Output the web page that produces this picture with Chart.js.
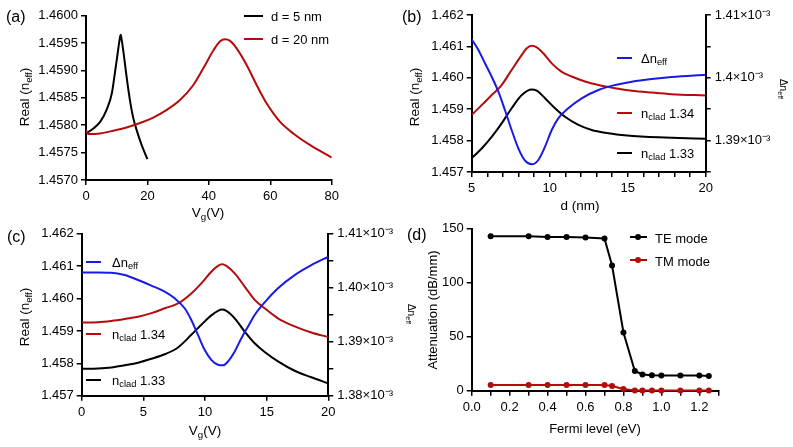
<!DOCTYPE html>
<html><head><meta charset="utf-8">
<script src="https://cdn.jsdelivr.net/npm/chart.js@4.4.1/dist/chart.umd.min.js"></script>
<style>
html,body{margin:0;padding:0;background:#fff}
body{width:793px;height:447px;position:relative;overflow:hidden;font-family:"Liberation Sans",Arial,sans-serif;color:#000}
.box{position:absolute}
.box canvas{display:block}
.t{position:absolute;white-space:nowrap;line-height:1;font-size:13px}
.c{transform:translate(-50%,-50%)}
.l{transform:translate(0,-50%)}
.rl{transform:translate(-50%,-50%) rotate(-90deg)}
.rr{transform:translate(-50%,-50%) rotate(90deg)}
sub{font-size:0.72em;vertical-align:-0.32em;line-height:0}
.pl{font-size:16px}
.ls{position:absolute;height:2px}
.dot{position:absolute;width:6px;height:6px;border-radius:50%;transform:translate(-50%,-50%)}
</style>
</head><body>

<div class="box" id="pa" style="left:0;top:0;width:345px;height:220px"><canvas id="ca" width="345" height="220"></canvas></div>
<div class="box" id="pb" style="left:385px;top:0;width:408px;height:220px"><canvas id="cb" width="408" height="220"></canvas></div>
<div class="box" id="pc" style="left:0;top:222px;width:410px;height:225px"><canvas id="cc" width="410" height="225"></canvas></div>
<div class="box" id="pd" style="left:392px;top:218px;width:401px;height:229px"><canvas id="cd" width="401" height="229"></canvas></div>

<!-- panel (a) texts -->
<div class="t pl l" style="left:6px;top:17px">(a)</div>
<div class="t rl" style="left:25px;top:97px;font-size:13.5px">Real (n<sub>eff</sub>)</div>
<div class="t c" style="left:208px;top:213px;font-size:13.5px">V<sub>g</sub>(V)</div>
<div class="ls" style="left:244px;top:15px;width:19px;background:#000"></div>
<div class="t l" style="left:271px;top:16px">d = 5 nm</div>
<div class="ls" style="left:244px;top:38px;width:19px;background:#b40c0c"></div>
<div class="t l" style="left:271px;top:39px">d = 20 nm</div>

<!-- panel (b) texts -->
<div class="t pl l" style="left:402px;top:17px">(b)</div>
<div class="t rl" style="left:415px;top:97px;font-size:13.5px">Real (n<sub>eff</sub>)</div>
<div class="t c" style="left:580px;top:206px;font-size:13.5px">d (nm)</div>
<div class="t rr" style="left:783px;top:89px;font-size:10px">&Delta;n<sub>eff</sub></div>
<div class="ls" style="left:617px;top:57px;width:15px;background:#1a1ae6"></div>
<div class="t l" style="left:641px;top:58px">&Delta;n<sub>eff</sub></div>
<div class="ls" style="left:617px;top:112px;width:15px;background:#b40c0c"></div>
<div class="t l" style="left:641px;top:113px">n<sub>clad</sub> 1.34</div>
<div class="ls" style="left:617px;top:152px;width:15px;background:#000"></div>
<div class="t l" style="left:641px;top:153px">n<sub>clad</sub> 1.33</div>

<!-- panel (c) texts -->
<div class="t pl l" style="left:7px;top:237px">(c)</div>
<div class="t rl" style="left:25px;top:317px;font-size:13.5px">Real (n<sub>eff</sub>)</div>
<div class="t c" style="left:205px;top:431px;font-size:13.5px">V<sub>g</sub>(V)</div>
<div class="ls" style="left:86px;top:261px;width:15px;background:#1a1ae6"></div>
<div class="t l" style="left:112px;top:262px">&Delta;n<sub>eff</sub></div>
<div class="ls" style="left:86px;top:333px;width:15px;background:#b40c0c"></div>
<div class="t l" style="left:112px;top:334px">n<sub>clad</sub> 1.34</div>
<div class="ls" style="left:86px;top:379px;width:15px;background:#000"></div>
<div class="t l" style="left:112px;top:380px">n<sub>clad</sub> 1.33</div>

<!-- panel (d) texts -->
<div class="t pl l" style="left:407px;top:235px">(d)</div>
<div class="t rl" style="left:432px;top:310px">Attenuation (dB/mm)</div>
<div class="t rr" style="left:411px;top:314px;font-size:10px">&Delta;n<sub>eff</sub></div>
<div class="t c" style="left:595px;top:428px">Fermi level (eV)</div>
<div class="ls" style="left:630px;top:236px;width:17px;background:#000"></div>
<div class="dot" style="left:638px;top:237px;background:#000"></div>
<div class="t l" style="left:655px;top:238px">TE mode</div>
<div class="ls" style="left:630px;top:259px;width:17px;background:#b40c0c"></div>
<div class="dot" style="left:638px;top:260px;background:#b40c0c"></div>
<div class="t l" style="left:655px;top:261px">TM mode</div>

<script>
// ---------- DATA ----------
// (a) Real(n_eff) vs Vg
const vgA_d5  = [0, 2.4, 4.6, 6.7, 8.4, 9.4, 10.3, 10.85, 11.3, 11.7, 12.4, 13.2, 14.3, 15.4, 16.5, 18.1, 20];
const nA_d5   = [1.45785, 1.45794, 1.45806, 1.45828, 1.45858, 1.45895, 1.45931, 1.45953, 1.45965, 1.45953, 1.45925, 1.45889, 1.45846, 1.45813, 1.45791, 1.45764, 1.45738];
const vgA_d20 = [0, 0.8, 4.6, 8.9, 13.2, 17.6, 21.9, 26.3, 30.6, 34.9, 38.2, 41.5, 43.6, 45.3, 46.9, 49.1, 52.3, 55.6, 58.8, 63.2, 67.5, 72.9, 80];
const nA_d20  = [1.45790, 1.45784, 1.45785, 1.45790, 1.45796, 1.45804, 1.45814, 1.45828, 1.45846, 1.45873, 1.45904, 1.45937, 1.45953, 1.45957, 1.45954, 1.45940, 1.45910, 1.45873, 1.45840, 1.45806, 1.45785, 1.45764, 1.45741];
const xTicksA = [0, 20, 40, 60, 80];
const xLabelsA = ['0', '20', '40', '60', '80'];
const yTicksA = [1.457, 1.4575, 1.458, 1.4585, 1.459, 1.4595, 1.46];
const yLabelsA = ['1.4570', '1.4575', '1.4580', '1.4585', '1.4590', '1.4595', '1.4600'];

// (b) vs d (nm)
const dB_134 = [5.0, 5.64, 6.28, 6.92, 7.56, 8.21, 8.53, 8.85, 9.17, 9.59, 10.13, 10.77, 11.41, 12.26, 13.12, 14.19, 15.26, 16.54, 17.82, 20];
const nB_134 = [1.45882, 1.45913, 1.45945, 1.45977, 1.46025, 1.46073, 1.46094, 1.46102, 1.46097, 1.46078, 1.46046, 1.46019, 1.46004, 1.45988, 1.45977, 1.45967, 1.45959, 1.45953, 1.45948, 1.45944];
const dB_133 = [5.0, 5.64, 6.28, 6.92, 7.56, 8.21, 8.85, 9.17, 9.70, 10.34, 10.98, 11.84, 12.69, 13.54, 14.61, 16.11, 17.82, 20];
const nB_133 = [1.45744, 1.45775, 1.45812, 1.45855, 1.45903, 1.45945, 1.45963, 1.45959, 1.45935, 1.45903, 1.45876, 1.45850, 1.45834, 1.45825, 1.45818, 1.45812, 1.45809, 1.45806];
const dB_dn  = [5.0, 5.43, 5.85, 6.28, 6.71, 7.13, 7.56, 7.99, 8.42, 8.85, 9.27, 9.70, 10.13, 10.55, 11.19, 12.05, 13.12, 14.19, 15.26, 16.54, 17.82, 20];
const dnB    = [1.40613e-3, 1.40443e-3, 1.40231e-3, 1.40018e-3, 1.39779e-3, 1.39487e-3, 1.39169e-3, 1.38877e-3, 1.38680e-3, 1.38622e-3, 1.38691e-3, 1.38903e-3, 1.39169e-3, 1.39355e-3, 1.39514e-3, 1.39673e-3, 1.39806e-3, 1.39885e-3, 1.39938e-3, 1.39981e-3, 1.40013e-3, 1.40049e-3];
const xTicksB = [5, 6, 7, 8, 9, 10, 11, 12, 13, 14, 15, 16, 17, 18, 19, 20];
const xLabelsB = ['5', '', '', '', '', '10', '', '', '', '', '15', '', '', '', '', '20'];
const yTicksB = [1.457, 1.458, 1.459, 1.46, 1.461, 1.462];
const yLabelsB = ['1.457', '1.458', '1.459', '1.460', '1.461', '1.462'];
const rTicksB = [1.385e-3, 1.39e-3, 1.395e-3, 1.40e-3, 1.405e-3, 1.41e-3];
const rLabelsB = ['', '1.39×10⁻³', '', '1.4×10⁻³', '', '1.41×10⁻³'];

// (c) vs Vg
const vgC    = [0, 1.32, 2.40, 3.49, 4.57, 5.65, 6.73, 7.81, 8.89, 9.70, 10.51, 11.05, 11.38, 11.73, 12.41, 13.22, 14.03, 14.84, 15.92, 17.27, 18.62, 20];
const nC_134 = [1.45926, 1.45927, 1.45931, 1.45937, 1.45944, 1.45955, 1.45970, 1.45985, 1.46016, 1.46047, 1.46083, 1.46101, 1.46106, 1.46101, 1.46078, 1.46037, 1.45996, 1.45970, 1.45939, 1.45914, 1.45895, 1.45881];
const nC_133 = [1.45783, 1.45784, 1.45787, 1.45794, 1.45802, 1.45814, 1.45828, 1.45849, 1.45888, 1.45919, 1.45948, 1.45962, 1.45966, 1.45962, 1.45939, 1.45898, 1.45862, 1.45835, 1.45806, 1.45777, 1.45757, 1.45738];
const vgC_dn = [0, 1.32, 2.40, 3.49, 4.57, 5.65, 6.73, 7.54, 8.35, 8.89, 9.43, 9.97, 10.51, 11.05, 11.46, 11.87, 12.41, 12.95, 13.49, 14.03, 14.84, 15.92, 17.27, 18.62, 20];
const dnC    = [1.40285e-3, 1.40285e-3, 1.40280e-3, 1.40235e-3, 1.40143e-3, 1.40040e-3, 1.39929e-3, 1.39805e-3, 1.39620e-3, 1.39404e-3, 1.39127e-3, 1.38850e-3, 1.38665e-3, 1.38573e-3, 1.38562e-3, 1.38636e-3, 1.38820e-3, 1.39066e-3, 1.39282e-3, 1.39496e-3, 1.39731e-3, 1.39990e-3, 1.40235e-3, 1.40420e-3, 1.40575e-3];
const xTicksC = [0, 5, 10, 15, 20];
const xLabelsC = ['0', '5', '10', '15', '20'];
const yTicksC = [1.457, 1.458, 1.459, 1.46, 1.461, 1.462];
const yLabelsC = ['1.457', '1.458', '1.459', '1.460', '1.461', '1.462'];
const rTicksC = [1.38e-3, 1.385e-3, 1.39e-3, 1.395e-3, 1.40e-3, 1.405e-3, 1.41e-3];
const rLabelsC = ['1.38×10⁻³', '', '1.39×10⁻³', '', '1.40×10⁻³', '', '1.41×10⁻³'];

// (d) attenuation vs Fermi level
const fermi = [0.1, 0.3, 0.4, 0.5, 0.6, 0.7, 0.74, 0.8, 0.86, 0.9, 0.95, 1.0, 1.1, 1.2, 1.25];
const attTE = [143, 143, 142.5, 142.5, 142, 141, 116, 54, 18.3, 15, 14.4, 14, 14, 14, 13.7];
const attTM = [5.2, 5.2, 5.2, 5.2, 5.2, 5.2, 4.3, 1.5, 0.3, 0.1, 0.1, 0.1, 0.1, 0.1, 0.1];
const xTicksD = [0, 0.1, 0.2, 0.3, 0.4, 0.5, 0.6, 0.7, 0.8, 0.9, 1.0, 1.1, 1.2, 1.3];
const xLabelsD = ['0.0', '', '0.2', '', '0.4', '', '0.6', '', '0.8', '', '1.0', '', '1.2', ''];
const yTicksD = [0, 50, 100, 150];
const yLabelsD = ['0', '50', '100', '150'];

// ---------- STYLE ----------
const BLACK = '#000000', RED = '#b40c0c', BLUE = '#1a1ae6';
Chart.defaults.font.family = "'Liberation Sans', Arial, sans-serif";
Chart.defaults.font.size = 13;
Chart.defaults.color = '#000';
Chart.defaults.animation = false;

function pts(xs, ys) { return xs.map((x, i) => ({ x: x, y: ys[i] })); }

function scale(pos, min, max, tickVals, tickLabels, size, pad) {
  const vertical = (pos === 'left' || pos === 'right');
  return {
    type: 'linear', position: pos, min: min, max: max,
    grid: { display: true, drawOnChartArea: false, drawTicks: true, tickLength: 5, color: '#000', lineWidth: 1.5 },
    border: { display: true, color: '#000', width: 2 },
    ticks: { padding: pad, color: '#000', font: { size: 13 }, autoSkip: false, maxRotation: 0, minRotation: 0,
             callback: (v, i) => tickLabels[i] },
    afterBuildTicks: s => { s.ticks = tickVals.map(v => ({ value: v })); },
    afterFit: s => { if (vertical) s.width = size; else s.height = size; }
  };
}

function line(data, color, axis) {
  const d = { data: data, borderColor: color, backgroundColor: color, borderWidth: 2,
              pointRadius: 0, showLine: true, cubicInterpolationMode: 'monotone', fill: false };
  if (axis) d.yAxisID = axis;
  return d;
}

const base = (pad) => ({
  responsive: false, devicePixelRatio: 1, animation: false,
  layout: { padding: pad },
  plugins: { legend: { display: false }, tooltip: { enabled: false } }
});

// (a)
new Chart(document.getElementById('ca'), {
  type: 'scatter',
  data: { datasets: [ line(pts(vgA_d20, nA_d20), RED), line(pts(vgA_d5, nA_d5), BLACK) ] },
  options: Object.assign(base({ left: 0, top: 15.7, right: 13.3, bottom: 0 }), {
    scales: {
      x: scale('bottom', 0, 80, xTicksA, xLabelsA, 40, 4),
      y: scale('left', 1.457, 1.46, yTicksA, yLabelsA, 86, 3)
    }
  })
});

// (b)
new Chart(document.getElementById('cb'), {
  type: 'scatter',
  data: { datasets: [ line(pts(dB_dn, dnB), BLUE, 'y2'), line(pts(dB_134, nB_134), RED, 'y'), line(pts(dB_133, nB_133), BLACK, 'y') ] },
  options: Object.assign(base({ left: 0, top: 15, right: 0, bottom: 0 }), {
    scales: {
      x: scale('bottom', 5, 20, xTicksB, xLabelsB, 48, 4),
      y: scale('left', 1.457, 1.462, yTicksB, yLabelsB, 86.7, 3),
      y2: scale('right', 1.385e-3, 1.41e-3, rTicksB, rLabelsB, 87.3, 4)
    }
  })
});

// (c)
new Chart(document.getElementById('cc'), {
  type: 'scatter',
  data: { datasets: [ line(pts(vgC_dn, dnC), BLUE, 'y2'), line(pts(vgC, nC_134), RED, 'y'), line(pts(vgC, nC_133), BLACK, 'y') ] },
  options: Object.assign(base({ left: 0, top: 11.3, right: 0, bottom: 0 }), {
    scales: {
      x: scale('bottom', 0, 20, xTicksC, xLabelsC, 51.3, 4),
      y: scale('left', 1.457, 1.462, yTicksC, yLabelsC, 81.7, 3),
      y2: scale('right', 1.38e-3, 1.41e-3, rTicksC, rLabelsC, 81.7, 4)
    }
  })
});

// (d)
function mline(data, color) {
  return { data: data, borderColor: color, backgroundColor: color, borderWidth: 2,
           pointRadius: 3, pointBorderWidth: 0, showLine: true, tension: 0, fill: false, clip: false };
}
new Chart(document.getElementById('cd'), {
  type: 'scatter',
  data: { datasets: [ mline(pts(fermi, attTM), RED), mline(pts(fermi, attTE), BLACK) ] },
  options: Object.assign(base({ left: 0, top: 8.7, right: 74.7, bottom: 0 }), {
    scales: {
      x: scale('bottom', 0, 1.3, xTicksD, xLabelsD, 56.3, 4),
      y: scale('left', 0, 150, yTicksD, yLabelsD, 79.7, 3)
    }
  })
});
</script>
</body></html>
